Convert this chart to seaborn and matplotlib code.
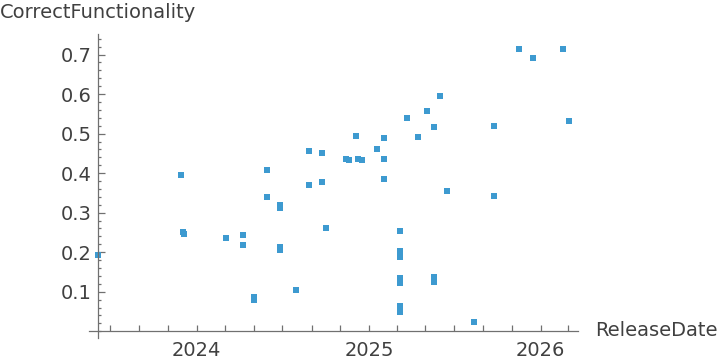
import matplotlib
matplotlib.use("Agg")
import matplotlib.pyplot as plt
import matplotlib.dates as mdates
from matplotlib.ticker import MultipleLocator
import numpy as np
import pandas as pd
import seaborn as sns

# values
release_dates = [
    "2023-06-05", "2023-11-28", "2023-12-03", "2023-12-04", "2024-03-03",
    "2024-04-08", "2024-04-08", "2024-05-01", "2024-05-01", "2024-05-29",
    "2024-05-29", "2024-06-26", "2024-06-26", "2024-06-26", "2024-06-26",
    "2024-07-30", "2024-08-26", "2024-08-26", "2024-09-23", "2024-09-23",
    "2024-10-01", "2024-11-13", "2024-11-20", "2024-12-05", "2024-12-09",
    "2024-12-18", "2025-01-19", "2025-02-03", "2025-02-03", "2025-02-03",
    "2025-03-09", "2025-03-09", "2025-03-09", "2025-03-09", "2025-03-09",
    "2025-03-09", "2025-03-09", "2025-03-22", "2025-04-15", "2025-05-04",
    "2025-05-19", "2025-05-19", "2025-05-19", "2025-06-02", "2025-06-15",
    "2025-08-12", "2025-09-24", "2025-09-24", "2025-11-16", "2025-12-16",
    "2026-02-17", "2026-03-02",
]
correct_functionality = [
    0.193, 0.395, 0.251, 0.247, 0.237,
    0.244, 0.218, 0.087, 0.079, 0.409,
    0.340, 0.320, 0.312, 0.214, 0.206,
    0.105, 0.457, 0.371, 0.452, 0.378,
    0.262, 0.437, 0.433, 0.495, 0.437,
    0.433, 0.462, 0.490, 0.437, 0.386,
    0.253, 0.203, 0.188, 0.135, 0.122,
    0.064, 0.049, 0.540, 0.492, 0.558,
    0.518, 0.138, 0.124, 0.594, 0.356,
    0.024, 0.520, 0.341, 0.713, 0.692,
    0.713, 0.533,
]
y_ticks = [0.1, 0.2, 0.3, 0.4, 0.5, 0.6, 0.7]

df = pd.DataFrame({
    "ReleaseDate": pd.to_datetime(release_dates),
    "CorrectFunctionality": correct_functionality,
})

sns.set_style("white")
plt.rcParams['font.family'] = ['DejaVu Sans']

text_col = "#404040"
axis_col = "#707070"
point_col = "#3d9ad0"

fig = plt.figure(figsize=(7.2, 3.62), dpi=100)
ax = fig.add_axes([89 / 720, 24 / 362, (578.3 - 89) / 720, (338 - 34) / 362])

sns.scatterplot(data=df, x="ReleaseDate", y="CorrectFunctionality", ax=ax,
                marker="s", s=20, color=point_col, linewidth=0, legend=False)

ax.set_xlim(mdates.date2num(pd.Timestamp("2023-05-17")),
            mdates.date2num(pd.Timestamp("2026-03-22")))
ax.set_ylim(-0.017, 0.752)

# axes crossing like the original
for side in ["top", "right"]:
    ax.spines[side].set_visible(False)
ax.spines["left"].set_position(("data", mdates.date2num(pd.Timestamp("2023-06-06"))))
ax.spines["bottom"].set_position(("data", 0))
for side in ["left", "bottom"]:
    ax.spines[side].set_color(axis_col)
    ax.spines[side].set_linewidth(0.9)

ax.xaxis.set_major_locator(mdates.YearLocator())
ax.xaxis.set_major_formatter(mdates.DateFormatter("%Y"))
ax.xaxis.set_minor_locator(mdates.MonthLocator(bymonth=[1, 3, 5, 7, 9, 11]))
ax.set_yticks(y_ticks)
ax.set_yticklabels([f"{v:.1f}" for v in y_ticks])
ax.yaxis.set_minor_locator(MultipleLocator(0.02))

# seaborn "white" hides ticks, switch them back on
ax.tick_params(axis="x", which="both", bottom=True, direction="in", length=4.3,
               width=0.9, color=axis_col, labelcolor=text_col, labelsize=14, pad=7)
ax.tick_params(axis="y", which="major", left=True, direction="in", length=4.8,
               width=0.9, color=axis_col, labelcolor=text_col, labelsize=14, pad=5)
ax.tick_params(axis="y", which="minor", left=True, direction="in", length=2.2,
               width=0.9, color=axis_col)

ax.set_xlabel("")
ax.set_ylabel("")
fig.text(0, 1 - 13 / 362, "CorrectFunctionality", ha="left", va="center",
         fontsize=14, color=text_col)
fig.text(595 / 720, 1 - 331 / 362, "ReleaseDate", ha="left", va="center",
         fontsize=14, color=text_col)

fig.savefig("out.png", dpi=100)
